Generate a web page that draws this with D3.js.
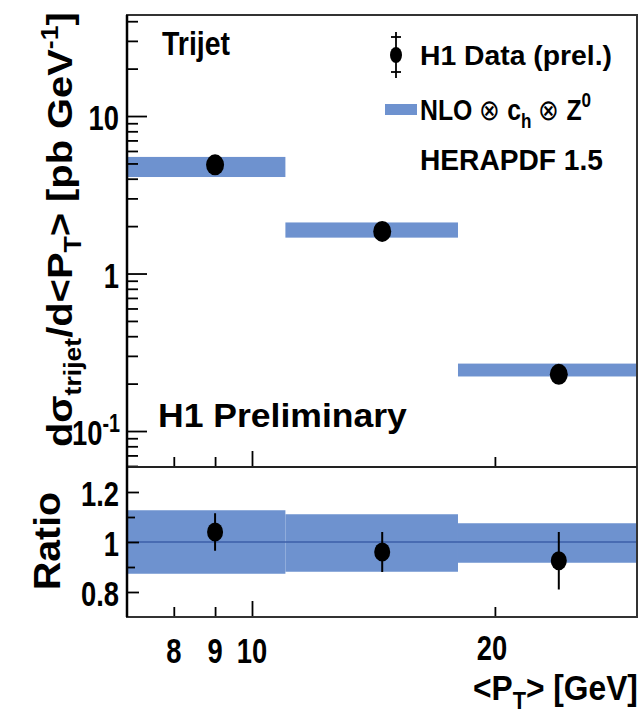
<!DOCTYPE html>
<html>
<head>
<meta charset="utf-8">
<script src="https://cdn.jsdelivr.net/npm/d3@7"></script>
<style>
    body { margin: 0; background: #fff; }
    text { font-family: 'Liberation Sans', Arial, sans-serif; font-weight: bold; fill: #000; }
</style>
</head>
<body>
<svg id="canvas" width="638" height="713"></svg>
<script>
const binEdges = [7, 11, 18, 30]
const dataPt = [9.0, 14.5, 24.0]
const dataXsec = [4.9, 1.85, 0.229]
const dataXsecErr = [0.35, 0.14, 0.024]
const nloXsecLow = [4.1, 1.69, 0.222]
const nloXsecHigh = [5.5, 2.11, 0.268]

const ratio = [1.04, 0.96, 0.925]
const ratioErr = [0.075, 0.08, 0.115]
const nloRatioLow = [0.873, 0.881, 0.917]
const nloRatioHigh = [1.127, 1.111, 1.075]

const xTicks = [8, 9, 10, 20]
const xMajorTicks = [10]
const yMajorTicks = [0.1, 1, 10]
const ratioTicks = [0.8, 1, 1.2]
const ratioMinorTicks = [0.9, 1.1]

const bandColor = '#6e92cf'
const svg = d3.select('#canvas')

const frameLeft = 127, frameRight = 637, frameTop = 15, frameMid = 467, frameBottom = 617

const x = d3.scaleLog().domain([7, 30]).range([frameLeft, frameRight])
const y = d3.scaleLog().domain([0.0591, 43.8]).range([frameMid, frameTop])
const yr = d3.scaleLinear().domain([0.7, 1.3]).range([frameBottom, frameMid])

const bins = d3.range(dataPt.length).map(i => ({
    lo: binEdges[i], hi: binEdges[i + 1],
    pt: dataPt[i], xs: dataXsec[i], xsErr: dataXsecErr[i],
    nloLo: nloXsecLow[i], nloHi: nloXsecHigh[i],
    r: ratio[i], rErr: ratioErr[i], rLo: nloRatioLow[i], rHi: nloRatioHigh[i]
}))

// stretch or squeeze a text so it spans w pixels (the original uses a narrow font)
const fit = (text, w, tx, ty, angle = 0) => {
    const natural = text.node().getComputedTextLength()
    text.attr('transform', `translate(${tx},${ty}) rotate(${angle}) scale(${w / natural},1)`)
    return text
}

const label = (str, size, anchor = 'start') =>
    svg.append('text').attr('font-size', size).attr('text-anchor', anchor).text(str)

// ---- upper panel: NLO bands and data
svg.append('g').selectAll('rect')
    .data(bins)
    .join('rect')
        .attr('x', d => x(d.lo))
        .attr('width', d => x(d.hi) - x(d.lo))
        .attr('y', d => y(d.nloHi))
        .attr('height', d => y(d.nloLo) - y(d.nloHi))
        .attr('fill', bandColor)

svg.append('g').selectAll('line')
    .data(bins)
    .join('line')
        .attr('x1', d => x(d.pt)).attr('x2', d => x(d.pt))
        .attr('y1', d => y(d.xs + d.xsErr)).attr('y2', d => y(d.xs - d.xsErr))
        .attr('stroke', '#000').attr('stroke-width', 2)

svg.append('g').selectAll('ellipse')
    .data(bins)
    .join('ellipse')
        .attr('cx', d => x(d.pt))
        .attr('cy', d => y(d.xs))
        .attr('rx', 9).attr('ry', 10.5)
        .attr('fill', '#000')

// ---- lower panel: ratio to NLO
svg.append('g').selectAll('rect')
    .data(bins)
    .join('rect')
        .attr('x', d => x(d.lo))
        .attr('width', d => x(d.hi) - x(d.lo))
        .attr('y', d => yr(d.rHi))
        .attr('height', d => yr(d.rLo) - yr(d.rHi))
        .attr('fill', bandColor)

svg.append('line')
    .attr('x1', frameLeft).attr('x2', frameRight)
    .attr('y1', yr(1)).attr('y2', yr(1))
    .attr('stroke', '#3d5ea8').attr('stroke-width', 1.5)

svg.append('g').selectAll('line')
    .data(bins)
    .join('line')
        .attr('x1', d => x(d.pt)).attr('x2', d => x(d.pt))
        .attr('y1', d => yr(d.r + d.rErr)).attr('y2', d => yr(d.r - d.rErr))
        .attr('stroke', '#000').attr('stroke-width', 2)

svg.append('g').selectAll('ellipse')
    .data(bins)
    .join('ellipse')
        .attr('cx', d => x(d.pt))
        .attr('cy', d => yr(d.r))
        .attr('rx', 8).attr('ry', 9.5)
        .attr('fill', '#000')

// ---- axes: ticks point into the frame, labels drawn by hand below
const tickAxis = (axis, sel, len) => {
    sel.call(axis.tickSizeInner(-len).tickSizeOuter(0).tickFormat(''))
    sel.select('.domain').remove()
    sel.selectAll('line').attr('stroke', '#000').attr('stroke-width', 1.8)
}

const yMinor = []
for (let e = -2; e <= 1; e++) {
    for (let m = 2; m <= 9; m++) {
        const v = m * Math.pow(10, e)
        if (v > y.domain()[0] && v < y.domain()[1]) yMinor.push(v)
    }
}
tickAxis(d3.axisLeft(y).tickValues(yMajorTicks), svg.append('g').attr('transform', `translate(${frameLeft},0)`), 20)
tickAxis(d3.axisLeft(y).tickValues(yMinor), svg.append('g').attr('transform', `translate(${frameLeft},0)`), 11)
tickAxis(d3.axisLeft(yr).tickValues(ratioTicks), svg.append('g').attr('transform', `translate(${frameLeft},0)`), 12)
tickAxis(d3.axisLeft(yr).tickValues(ratioMinorTicks), svg.append('g').attr('transform', `translate(${frameLeft},0)`), 8)

const xMinor = xTicks.filter(v => !xMajorTicks.includes(v))
;[frameMid, frameBottom].forEach(yPos => {
    tickAxis(d3.axisBottom(x).tickValues(xMajorTicks), svg.append('g').attr('transform', `translate(0,${yPos})`), 16)
    tickAxis(d3.axisBottom(x).tickValues(xMinor), svg.append('g').attr('transform', `translate(0,${yPos})`), 10)
})

// frame
svg.append('rect')
    .attr('x', frameLeft).attr('y', frameTop)
    .attr('width', frameRight - frameLeft).attr('height', frameBottom - frameTop)
    .attr('fill', 'none').attr('stroke', '#333').attr('stroke-width', 2)
svg.append('line')
    .attr('x1', frameLeft).attr('x2', frameRight).attr('y1', frameMid).attr('y2', frameMid)
    .attr('stroke', '#222').attr('stroke-width', 2)
svg.append('line')
    .attr('x1', frameLeft).attr('x2', frameLeft).attr('y1', frameTop).attr('y2', frameBottom)
    .attr('stroke', '#000').attr('stroke-width', 2.5)

// tick labels
const squeeze = 0.76
yMajorTicks.forEach(v => {
    const t = svg.append('text').attr('font-size', 36).attr('text-anchor', 'end')
    if (v < 1) {
        t.append('tspan').text('10')
        t.append('tspan').attr('font-size', 26).attr('dy', -13).text('-1')
    } else {
        t.text(d3.format('d')(v))
    }
    t.attr('transform', `translate(${v < 1 ? 120 : 119},${y(v) + 14}) scale(${squeeze},1)`)
})
ratioTicks.forEach(v => {
    label(d3.format('')(v), 36, 'end')
        .attr('transform', `translate(119,${yr(v) + 14}) scale(${squeeze},1)`)
})
xTicks.forEach(v => {
    label(v, 36, 'middle')
        .attr('transform', `translate(${x(v) - (v === 20 ? 3 : 0)},${v === 20 ? 660 : 663}) scale(${squeeze},1)`)
})

// axis titles
const yTitle = svg.append('text').attr('font-size', 36)
yTitle.append('tspan').text('dσ')
yTitle.append('tspan').attr('font-size', 24).attr('dy', 9).text('trijet')
yTitle.append('tspan').attr('dy', -9).text('/d<P')
yTitle.append('tspan').attr('font-size', 24).attr('dy', 9).text('T')
yTitle.append('tspan').attr('dy', -9).text('> [pb GeV')
yTitle.append('tspan').attr('font-size', 24).attr('dy', -14).text('-1')
yTitle.append('tspan').attr('dy', 14).text(']')
fit(yTitle, 435, 72, 447, -90)

fit(label('Ratio', 37), 98, 60, 590, -90)

const xTitle = svg.append('text').attr('font-size', 35)
xTitle.append('tspan').text('<P')
xTitle.append('tspan').attr('font-size', 24).attr('dy', 9).text('T')
xTitle.append('tspan').attr('dy', -9).text('> [GeV]')
fit(xTitle, 165, 473, 700)

// panel texts
fit(label('Trijet', 34), 68, 162, 55)
fit(label('H1 Preliminary', 34), 249, 158, 427)

// legend
const lg = svg.append('g')
lg.append('line').attr('x1', 396).attr('x2', 396).attr('y1', 32).attr('y2', 78)
    .attr('stroke', '#000').attr('stroke-width', 1.8)
;[37, 72].forEach(v => lg.append('line')
    .attr('x1', 391).attr('x2', 401).attr('y1', v).attr('y2', v)
    .attr('stroke', '#000').attr('stroke-width', 1.8))
lg.append('ellipse').attr('cx', 396).attr('cy', 55).attr('rx', 6).attr('ry', 8).attr('fill', '#000')
fit(label('H1 Data (prel.)', 28), 192, 420, 65)

lg.append('rect').attr('x', 385).attr('y', 104).attr('width', 32).attr('height', 11).attr('fill', bandColor)
const nlo = svg.append('text').attr('font-size', 29)
nlo.append('tspan').text('NLO ')
nlo.append('tspan').attr('font-weight', 'normal').text('⊗')
nlo.append('tspan').text(' c')
nlo.append('tspan').attr('font-size', 20).attr('dy', 8).text('h')
nlo.append('tspan').attr('dy', -8).attr('font-weight', 'normal').text(' ⊗')
nlo.append('tspan').text(' Z')
nlo.append('tspan').attr('font-size', 20).attr('dy', -13).text('0')
fit(nlo, 170, 420, 120)

fit(label('HERAPDF 1.5', 30), 183, 420, 170)
</script>
</body>
</html>
